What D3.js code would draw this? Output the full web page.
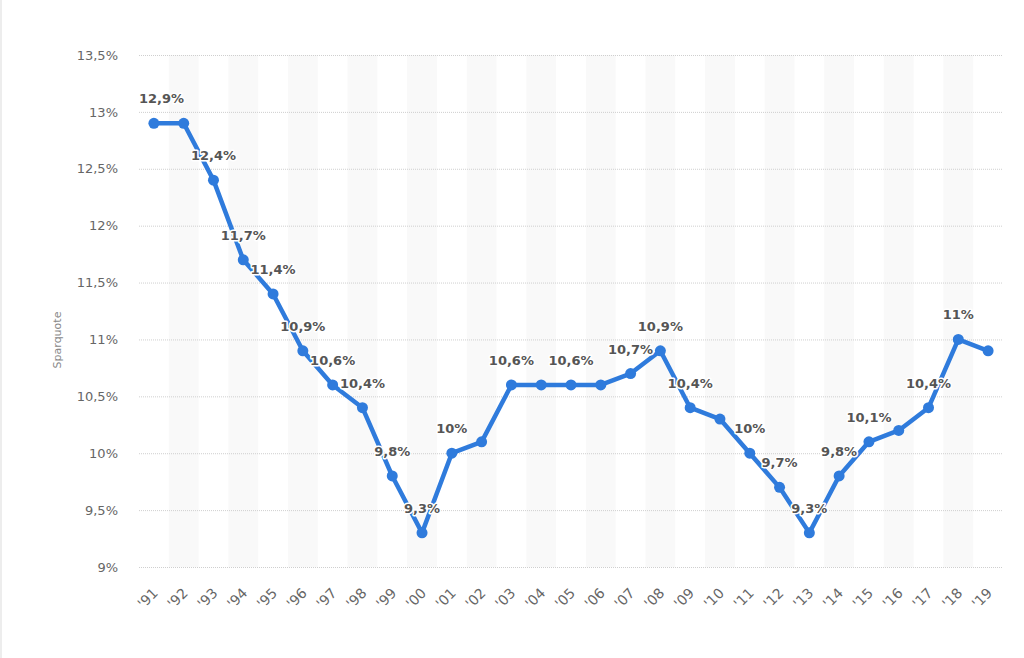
<!DOCTYPE html>
<html><head><meta charset="utf-8">
<script src="https://cdn.jsdelivr.net/npm/d3@7/dist/d3.min.js"></script>
<style>body{margin:0;background:#fff;}svg{display:block;font-family:"DejaVu Sans",sans-serif;}</style>
</head><body>
<svg id="c" width="1024" height="658"></svg>
<script>
const years = ["'91","'92","'93","'94","'95","'96","'97","'98","'99","'00","'01","'02","'03","'04","'05","'06","'07","'08","'09","'10","'11","'12","'13","'14","'15","'16","'17","'18","'19"];
const values = [12.9,12.9,12.4,11.7,11.4,10.9,10.6,10.4,9.8,9.3,10.0,10.1,10.6,10.6,10.6,10.6,10.7,10.9,10.4,10.3,10.0,9.7,9.3,9.8,10.1,10.2,10.4,11.0,10.9];
const labelledYears = ["'91","'93","'94","'95","'96","'97","'98","'99","'00","'01","'03","'05","'07","'08","'09","'11","'12","'13","'14","'15","'17","'18"];
const yTicks = [9,9.5,10,10.5,11,11.5,12,12.5,13,13.5];
const yTitle = "Sparquote";

const fmt = v => String(v).replace('.', ',') + '%';
const svg = d3.select('#c');
const L = 139, R = 1003, T = 55, B = 567;
const x = d3.scaleBand().domain(years).range([L, R]).padding(0);
const y = d3.scaleLinear().domain([9, 13.5]).range([B, T]);
const cx = d => x(d) + x.bandwidth()/2;

// left border
svg.append('line').attr('x1',1).attr('x2',1).attr('y1',0).attr('y2',658).attr('stroke','#ededed').attr('stroke-width',2);

// alternating bands
svg.append('g').selectAll('rect').data(years.filter((d,i)=>i%2===1)).join('rect')
  .attr('x', d=>x(d)).attr('y', T).attr('width', x.bandwidth()).attr('height', B-T)
  .attr('fill','#f9f9f9');

// grid
svg.append('g').selectAll('line').data(yTicks).join('line')
  .attr('x1', L).attr('x2', R).attr('y1', d=>y(d)+0.5).attr('y2', d=>y(d)+0.5)
  .attr('stroke','#cfcfcf').attr('stroke-width',1).attr('stroke-dasharray','1,1');

// y axis
const ya = svg.append('g').attr('transform',`translate(118,0)`)
  .call(d3.axisLeft(y).tickValues(yTicks).tickSize(0).tickPadding(0).tickFormat(fmt));
ya.select('.domain').remove();
ya.selectAll('text').attr('font-size',13).attr('fill','#666').attr('font-family','"DejaVu Sans",sans-serif');

svg.append('text').attr('transform','translate(61,340) rotate(-90)').attr('text-anchor','middle')
  .attr('font-size',11).attr('fill','#888').text(yTitle);

// x axis
const xa = svg.append('g').attr('transform',`translate(0,${B})`)
  .call(d3.axisBottom(x).tickSize(0).tickPadding(0));
xa.select('.domain').remove();
xa.selectAll('text').attr('font-size',14).attr('fill','#666').attr('font-family','"DejaVu Sans",sans-serif')
  .attr('text-anchor','end').attr('dy',0).attr('y',0)
  .attr('transform','translate(5,27) rotate(-45)');

// line
const line = d3.line().x((d,i)=>cx(years[i])).y(d=>y(d));
svg.append('path').datum(values).attr('d', line).attr('fill','none')
  .attr('stroke','#2f7bdc').attr('stroke-width',4.5).attr('stroke-linejoin','round');
svg.append('g').selectAll('circle').data(values).join('circle')
  .attr('cx',(d,i)=>cx(years[i])).attr('cy',d=>y(d)).attr('r',5.5).attr('fill','#2f7bdc');

// labels
const lab = svg.append('g');
years.forEach((yr,i)=>{
  if(!labelledYears.includes(yr)) return;
  const t = lab.append('text').attr('x', cx(yr)).attr('y', y(values[i]) - 20)
    .attr('text-anchor','middle').attr('font-size',13).attr('font-weight','bold')
    .attr('fill','#555').attr('stroke','#fff').attr('stroke-width',3).attr('paint-order','stroke')
    .attr('stroke-linejoin','round').text(fmt(values[i]));
  const bb = t.node().getBBox();
  if (bb.x < L) t.attr('x', cx(yr) + (L - bb.x));
  if (bb.x + bb.width > R) t.attr('x', cx(yr) - (bb.x + bb.width - R));
});
</script>
</body></html>
